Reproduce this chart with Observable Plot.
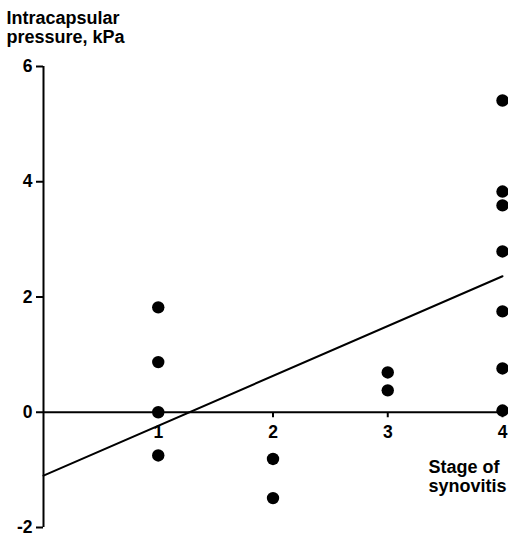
<!DOCTYPE html>
<html>
<head>
<meta charset="utf-8">
<script src="https://cdn.jsdelivr.net/npm/d3@7"></script>
<script src="https://cdn.jsdelivr.net/npm/@observablehq/plot@0.6"></script>
<style>
  html, body { margin: 0; padding: 0; background: #fff; }
</style>
</head>
<body>
<div id="chart"></div>
<script>
// Data
const stage    = [1, 1, 1, 1, 2, 2, 3, 3, 4, 4, 4, 4, 4, 4, 4];
const pressure = [1.82, 0.87, 0, -0.75, -0.81, -1.49, 0.69, 0.38, 5.41, 3.83, 3.59, 2.79, 1.75, 0.76, 0.03];
const xTicks = [1, 2, 3, 4];
const yTicks = [-2, 0, 2, 4, 6];
const fitStage = [0, 4];
const fitPressure = [-1.1, 2.36];
const yTitle = "Intracapsular\npressure, kPa";
const xTitle = "Stage of\nsynovitis";

const points = stage.map((s, i) => ({stage: s, pressure: pressure[i]}));
const fit = fitStage.map((s, i) => ({stage: s, pressure: fitPressure[i]}));

const tickDown = {draw(context) { context.moveTo(0, 0); context.lineTo(0, 5); }};
const font = "'Liberation Sans', Arial, Helvetica, sans-serif";

const chart = Plot.plot({
  width: 508,
  height: 536,
  marginLeft: 43,
  marginRight: 6,
  marginTop: 66,
  marginBottom: 9,
  style: {fontFamily: font, color: "black", background: "white"},
  x: {domain: [0, 4], axis: null},
  y: {domain: [-2, 6], axis: null},
  marks: [
    Plot.ruleX([0], {y1: -2, y2: 6, stroke: "black", strokeWidth: 2}),
    Plot.axisY(yTicks, {
      tickSize: 7, tickPadding: 4, strokeWidth: 2, fontSize: 17.5, fontWeight: "bold",
      tickFormat: d => d < 0 ? "-" + (-d) : String(d), label: null
    }),
    Plot.ruleY([0], {stroke: "black", strokeWidth: 2, insetRight: -3}),
    Plot.dot(xTicks, {x: d => d, y: 0, symbol: tickDown, fill: "none", stroke: "black", strokeWidth: 2}),
    Plot.text(xTicks, {x: d => d, y: 0, text: d => String(d), dy: 20, fontSize: 17.5, fontWeight: "bold", fill: "black"}),
    Plot.line(fit, {x: "stage", y: "pressure", stroke: "black", strokeWidth: 2}),
    Plot.dot(points, {x: "stage", y: "pressure", r: 6.2, fill: "black"}),
    Plot.text([yTitle], {frameAnchor: "top-left", dx: -37, dy: -57, textAnchor: "start", lineAnchor: "top",
      fontSize: 18, fontWeight: "bold", lineHeight: 1.1, fill: "black"}),
    Plot.text([xTitle], {frameAnchor: "bottom-right", dx: -74, dy: -69, textAnchor: "start", lineAnchor: "top",
      fontSize: 18, fontWeight: "bold", lineHeight: 1.1, fill: "black"})
  ]
});
document.getElementById("chart").appendChild(chart);
</script>
</body>
</html>
